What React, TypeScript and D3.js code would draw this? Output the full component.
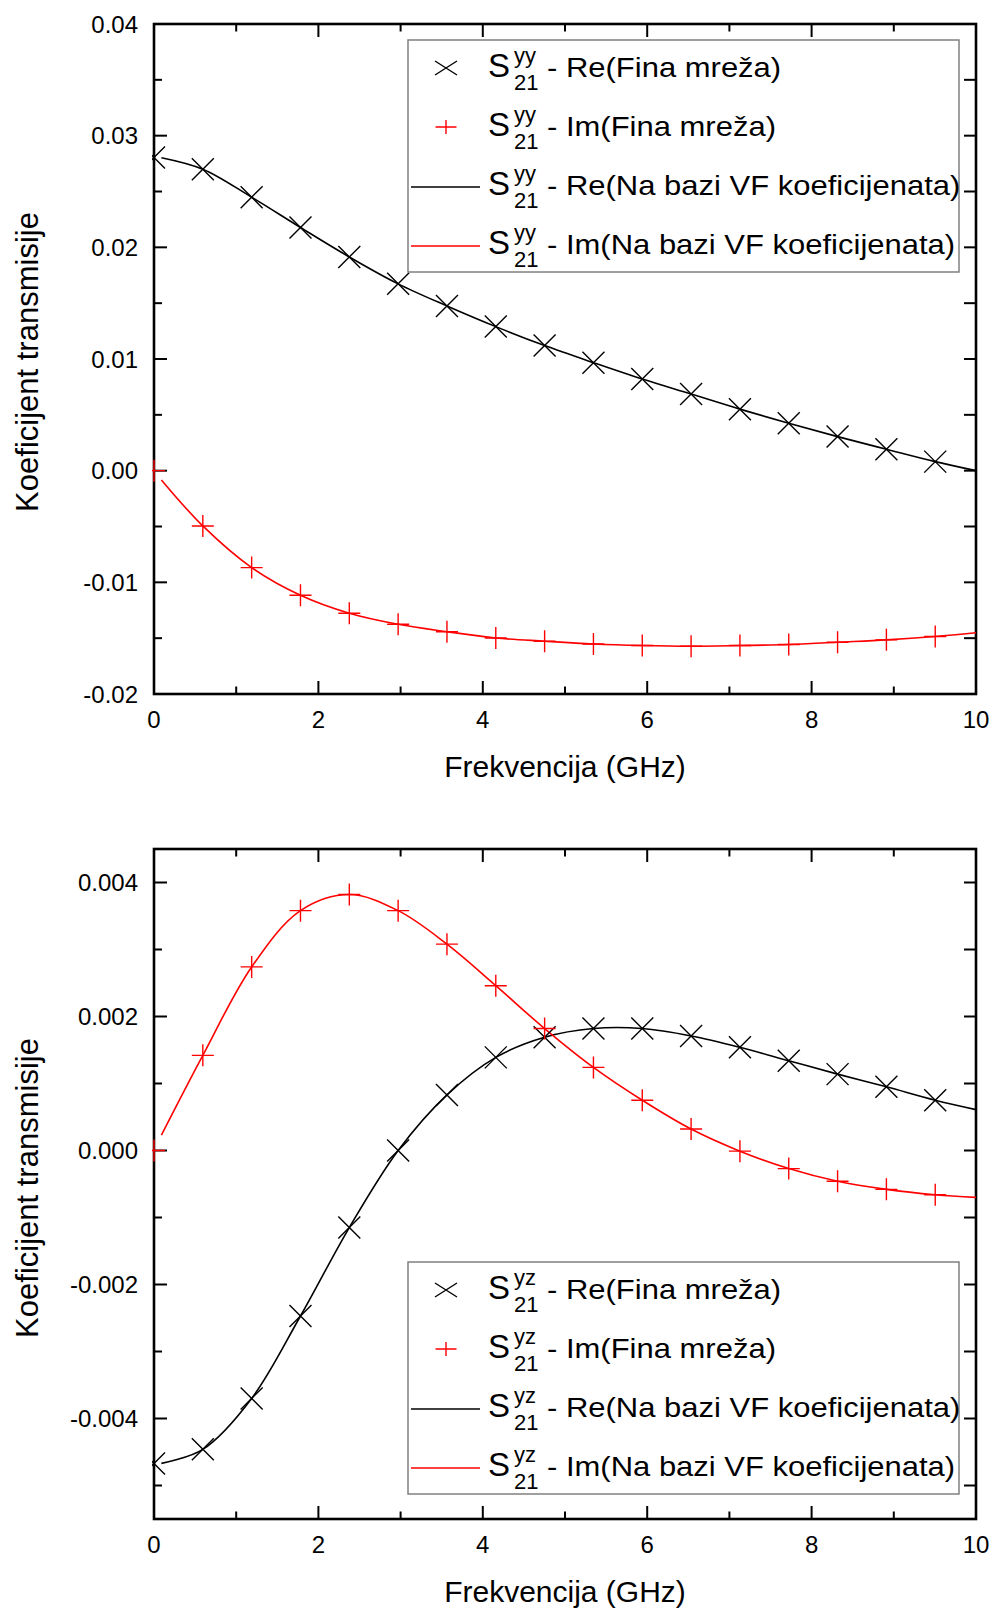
import React from "react";
import * as d3 from "d3";

// ---------- data ----------
const markerFreq = [0, 0.594, 1.188, 1.782, 2.376, 2.97, 3.564, 4.158, 4.752, 5.346, 5.94, 6.534, 7.128, 7.722, 8.316, 8.91, 9.504];
const lineFreq = [0.09, 0.594, 1.188, 1.782, 2.376, 2.97, 3.564, 4.158, 4.752, 5.346, 5.94, 6.534, 7.128, 7.722, 8.316, 8.91, 9.504, 10];

// S21 yy (top panel)
const yyReFine = [0.02805, 0.0270, 0.02449, 0.02178, 0.01914, 0.01673, 0.01475, 0.0129, 0.0112, 0.00967, 0.0082, 0.00686, 0.00551, 0.00425, 0.00305, 0.00192, 0.00081];
const yyImFine = [0.0, -0.00495, -0.00868, -0.01116, -0.01277, -0.01376, -0.01442, -0.01498, -0.01527, -0.01552, -0.01566, -0.01572, -0.01566, -0.01557, -0.01536, -0.01515, -0.01485];
const yyReVF = [0.02803, 0.0270, 0.02449, 0.02178, 0.01914, 0.01673, 0.01475, 0.0129, 0.0112, 0.00967, 0.0082, 0.00686, 0.00551, 0.00425, 0.00305, 0.00192, 0.00081, 0.0];
const yyImVF = [-0.00083, -0.00495, -0.00868, -0.01116, -0.01277, -0.01376, -0.01442, -0.01498, -0.01527, -0.01552, -0.01566, -0.01572, -0.01566, -0.01557, -0.01536, -0.01515, -0.01485, -0.01452];

// S21 yz (bottom panel)
const yzReFine = [-0.00467, -0.00446, -0.0037, -0.00247, -0.00115, 0.0, 0.00083, 0.00139, 0.00169, 0.00182, 0.00182, 0.00171, 0.00154, 0.00134, 0.00114, 0.00095, 0.00075];
const yzImFine = [0.0, 0.00142, 0.00274, 0.00358, 0.00382, 0.00358, 0.00308, 0.00246, 0.00182, 0.00124, 0.00075, 0.00032, -0.00001, -0.00027, -0.00046, -0.00058, -0.00066];
const yzReVF = [-0.00467, -0.00446, -0.0037, -0.00247, -0.00115, 0.0, 0.00083, 0.00139, 0.00169, 0.00182, 0.00182, 0.00171, 0.00154, 0.00134, 0.00114, 0.00095, 0.00075, 0.00061];
const yzImVF = [0.00023, 0.00142, 0.00274, 0.00358, 0.00382, 0.00358, 0.00308, 0.00246, 0.00182, 0.00124, 0.00075, 0.00032, -0.00001, -0.00027, -0.00046, -0.00058, -0.00066, -0.0007];

// axes
const xMajorTicks = [0, 2, 4, 6, 8, 10];
const xMajorLabels = ["0", "2", "4", "6", "8", "10"];
const xMinorTicks = [1, 3, 5, 7, 9];

const yyMajorTicks = [-0.02, -0.01, 0, 0.01, 0.02, 0.03, 0.04];
const yyMajorLabels = ["-0.02", "-0.01", "0.00", "0.01", "0.02", "0.03", "0.04"];
const yyMinorTicks = [-0.015, -0.005, 0.005, 0.015, 0.025, 0.035];

const yzMajorTicks = [-0.004, -0.002, 0, 0.002, 0.004];
const yzMajorLabels = ["-0.004", "-0.002", "0.000", "0.002", "0.004"];
const yzMinorTicks = [-0.005, -0.003, -0.001, 0.001, 0.003];

const legendTexts = [
  "- Re(Fina mreža)",
  "- Im(Fina mreža)",
  "- Re(Na bazi VF koeficijenata)",
  "- Im(Na bazi VF koeficijenata)",
];

const xTitle = "Frekvencija (GHz)";
const yTitle = "Koeficijent transmisije";

// ---------- layout ----------
const W = 994;
const H = 1609;
const X0 = 154;
const X1 = 976;
const FONT = "'Liberation Sans', Arial, Helvetica, sans-serif";
const RED = "#ff0000";

type PanelProps = {
  id: string;
  top: number;
  bottom: number;
  yDomain: [number, number];
  majorTicks: number[];
  majorLabels: string[];
  minorTicks: number[];
  reFine: number[];
  imFine: number[];
  reVF: number[];
  imVF: number[];
  sup: string;
  legendTop: number;
  yTitleCenter: number;
};

function XMark({ cx, cy, hw, hh, color }: { cx: number; cy: number; hw: number; hh: number; color: string }) {
  return (
    <path
      d={`M${cx - hw},${cy - hh}L${cx + hw},${cy + hh}M${cx - hw},${cy + hh}L${cx + hw},${cy - hh}`}
      stroke={color}
      strokeWidth={1.4}
      fill="none"
    />
  );
}

function PlusMark({ cx, cy, hw, hh, color }: { cx: number; cy: number; hw: number; hh: number; color: string }) {
  return (
    <path
      d={`M${cx - hw},${cy}L${cx + hw},${cy}M${cx},${cy - hh}L${cx},${cy + hh}`}
      stroke={color}
      strokeWidth={1.4}
      fill="none"
    />
  );
}

function Panel(p: PanelProps) {
  const x = d3.scaleLinear().domain([0, 10]).range([X0, X1]);
  const y = d3.scaleLinear().domain(p.yDomain).range([p.bottom, p.top]);
  const line = d3
    .line<[number, number]>()
    .x((d) => x(d[0]))
    .y((d) => y(d[1]))
    .curve(d3.curveCatmullRom.alpha(0.5));

  const rePts = lineFreq.map((f, i) => [f, p.reVF[i]] as [number, number]);
  const imPts = lineFreq.map((f, i) => [f, p.imVF[i]] as [number, number]);
  const clipId = `clip-${p.id}`;

  const LW = 551;
  const LH = 232;
  const L0 = 408;
  const rowBase = (i: number) => p.legendTop + 37 + i * 59;

  return (
    <g>
      <defs>
        <clipPath id={clipId}>
          <rect x={X0 - 2} y={p.top} width={X1 - X0 + 2} height={p.bottom - p.top} />
        </clipPath>
      </defs>

      {/* ticks */}
      <g stroke="#000" strokeWidth={2}>
        {xMajorTicks.map((t) => (
          <g key={`xM${t}`}>
            <line x1={x(t)} x2={x(t)} y1={p.bottom} y2={p.bottom - 13} />
            <line x1={x(t)} x2={x(t)} y1={p.top} y2={p.top + 13} />
          </g>
        ))}
        {xMinorTicks.map((t) => (
          <g key={`xm${t}`}>
            <line x1={x(t)} x2={x(t)} y1={p.bottom} y2={p.bottom - 7.5} />
            <line x1={x(t)} x2={x(t)} y1={p.top} y2={p.top + 7.5} />
          </g>
        ))}
        {p.majorTicks.map((t) => (
          <g key={`yM${t}`}>
            <line x1={X0} x2={X0 + 13} y1={y(t)} y2={y(t)} />
            <line x1={X1} x2={X1 - 12} y1={y(t)} y2={y(t)} />
          </g>
        ))}
        {p.minorTicks.map((t) => (
          <g key={`ym${t}`}>
            <line x1={X0} x2={X0 + 8} y1={y(t)} y2={y(t)} />
            <line x1={X1} x2={X1 - 12} y1={y(t)} y2={y(t)} />
          </g>
        ))}
      </g>

      {/* frame */}
      <rect x={X0} y={p.top} width={X1 - X0} height={p.bottom - p.top} fill="none" stroke="#000" strokeWidth={2.6} />

      {/* curves and markers (drawn over the frame, clipped to plot area) */}
      <g clipPath={`url(#${clipId})`}>
        <path d={line(rePts) || ""} fill="none" stroke="#000" strokeWidth={1.6} />
        <path d={line(imPts) || ""} fill="none" stroke={RED} strokeWidth={1.6} />
        {markerFreq.map((f, i) => (
          <XMark key={`x${i}`} cx={x(f)} cy={y(p.reFine[i])} hw={11} hh={11} color="#000" />
        ))}
        {markerFreq.map((f, i) => (
          <PlusMark key={`p${i}`} cx={x(f)} cy={y(p.imFine[i])} hw={11} hh={11} color={RED} />
        ))}
      </g>

      {/* tick labels */}
      <g fontFamily={FONT} fontSize={24} fill="#000">
        {xMajorTicks.map((t, i) => (
          <text key={`xl${t}`} x={x(t)} y={p.bottom + 33.5} textAnchor="middle">
            {xMajorLabels[i]}
          </text>
        ))}
        {p.majorTicks.map((t, i) => (
          <text key={`yl${t}`} x={138} y={y(t) + 8.5} textAnchor="end">
            {p.majorLabels[i]}
          </text>
        ))}
      </g>

      {/* axis titles */}
      <text x={(X0 + X1) / 2} y={p.bottom + 83} textAnchor="middle" fontFamily={FONT} fontSize={30} fill="#000">
        {xTitle}
      </text>
      <text
        transform={`translate(38,${p.yTitleCenter}) rotate(-90)`}
        textAnchor="middle"
        fontFamily={FONT}
        fontSize={31}
        fill="#000"
      >
        {yTitle}
      </text>

      {/* legend */}
      <rect x={L0} y={p.legendTop} width={LW} height={LH} fill="#fff" stroke="#808080" strokeWidth={1.5} />
      {legendTexts.map((txt, i) => {
        const by = rowBase(i);
        const my = by - 9;
        return (
          <g key={`lg${i}`}>
            {i === 0 && <XMark cx={L0 + 38} cy={my} hw={11} hh={7} color="#000" />}
            {i === 1 && <PlusMark cx={L0 + 38} cy={my} hw={10.5} hh={7} color={RED} />}
            {i === 2 && <line x1={L0 + 3} x2={L0 + 72} y1={my + 1} y2={my + 1} stroke="#000" strokeWidth={1.6} />}
            {i === 3 && <line x1={L0 + 3} x2={L0 + 72} y1={my + 1} y2={my + 1} stroke={RED} strokeWidth={1.6} />}
            <text x={L0 + 80} y={by} fontFamily={FONT} fontSize={33} fill="#000">
              S
            </text>
            <text x={L0 + 106} y={by - 14.5} fontFamily={FONT} fontSize={22} fill="#000">
              {p.sup}
            </text>
            <text x={L0 + 106} y={by + 12.5} fontFamily={FONT} fontSize={22} fill="#000">
              21
            </text>
            <text
              transform={`translate(${L0 + 139},${by}) scale(1,0.88)`}
              fontFamily={FONT}
              fontSize={31}
              fill="#000"
            >
              {txt}
            </text>
          </g>
        );
      })}
    </g>
  );
}

export default function App() {
  return (
    <svg
      width={W}
      height={H}
      viewBox={`0 0 ${W} ${H}`}
      style={{ position: "absolute", left: 0, top: 0, background: "#fff" }}
    >
      <rect x={0} y={0} width={W} height={H} fill="#fff" />
      <Panel
        id="yy"
        top={24}
        bottom={694}
        yDomain={[-0.02, 0.04]}
        majorTicks={yyMajorTicks}
        majorLabels={yyMajorLabels}
        minorTicks={yyMinorTicks}
        reFine={yyReFine}
        imFine={yyImFine}
        reVF={yyReVF}
        imVF={yyImVF}
        sup="yy"
        legendTop={40}
        yTitleCenter={362}
      />
      <Panel
        id="yz"
        top={849}
        bottom={1519}
        yDomain={[-0.0055, 0.0045]}
        majorTicks={yzMajorTicks}
        majorLabels={yzMajorLabels}
        minorTicks={yzMinorTicks}
        reFine={yzReFine}
        imFine={yzImFine}
        reVF={yzReVF}
        imVF={yzImVF}
        sup="yz"
        legendTop={1262}
        yTitleCenter={1188}
      />
    </svg>
  );
}
